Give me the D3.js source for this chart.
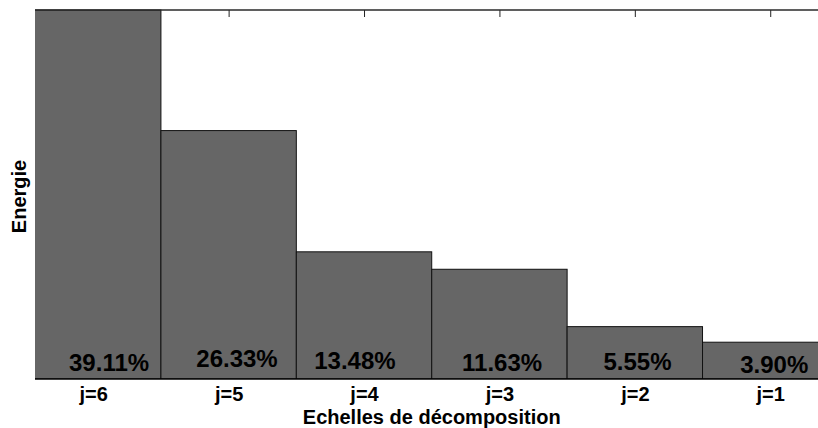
<!DOCTYPE html>
<html>
<head>
<meta charset="utf-8">
<script src="https://cdn.jsdelivr.net/npm/d3@7"></script>
<style>
  html, body { margin: 0; padding: 0; background: #fff; }
  svg { display: block; }
  text { font-family: "Liberation Sans", Arial, sans-serif; font-weight: bold; fill: #000; }
</style>
</head>
<body>
<svg id="chart" width="818" height="428"></svg>
<script>
// ---- data ----
const categories = ["j=6", "j=5", "j=4", "j=3", "j=2", "j=1"];
const energies = [39.11, 26.33, 13.48, 11.63, 5.55, 3.90];
const valueLabels = ["39.11%", "26.33%", "13.48%", "11.63%", "5.55%", "3.90%"];
// text anchor points of the value labels, in data units (as placed in the original)
const labelX = [1.117, 2.062, 2.933, 4.02, 5.02, 6.03];
const labelY = [0.85, 1.27, 1.03, 0.88, 0.95, 0.60];
const xLabel = "Echelles de décomposition";
const yLabel = "Energie";

(function () {
  // ---- layout ----
  const svg = d3.select("#chart");
  const mLeft = 35, mTop = 10, mBottom = 379;
  const xMin = 0.57, xMax = 6.43;
  const pxPerUnit = 135.4;
  const mRight = mLeft + (xMax - xMin) * pxPerUnit;

  const x = d3.scaleLinear().domain([xMin, xMax]).range([mLeft, mRight]);
  const y = d3.scaleLinear().domain([0, d3.max(energies)]).range([mBottom, mTop]);
  const barW = x(1.5) - x(0.5);
  const pos = categories.map((c, i) => i + 1);

  svg.append("defs").append("clipPath").attr("id", "plotClip")
    .append("rect").attr("x", mLeft).attr("y", mTop - 1)
    .attr("width", mRight - mLeft).attr("height", mBottom - mTop + 1);

  // top axis ticks (drawn below bars)
  const topAxis = d3.axisTop(x).tickValues(pos).tickSize(-7).tickFormat("");
  const gTop = svg.append("g").attr("transform", `translate(0,${mTop})`).call(topAxis);
  gTop.select(".domain").remove();
  gTop.selectAll(".tick line").attr("stroke", "#222").attr("stroke-width", 1);

  // bars
  svg.append("g").attr("clip-path", "url(#plotClip)")
    .selectAll("rect").data(energies).join("rect")
    .attr("x", (d, i) => x(pos[i]) - barW / 2)
    .attr("y", d => y(d))
    .attr("width", barW)
    .attr("height", d => mBottom - y(d))
    .attr("fill", "#666666")
    .attr("stroke", "#111")
    .attr("stroke-width", 1);

  // axis frame lines
  svg.append("line").attr("x1", mLeft).attr("x2", mRight).attr("y1", mTop).attr("y2", mTop)
    .attr("stroke", "#2a2a2a").attr("stroke-width", 1.6);
  svg.append("line").attr("x1", mLeft).attr("x2", mRight).attr("y1", mBottom).attr("y2", mBottom)
    .attr("stroke", "#000").attr("stroke-width", 1.4);

  // bottom axis labels
  const bottomAxis = d3.axisBottom(x).tickValues(pos).tickSize(0).tickPadding(0)
    .tickFormat((d, i) => categories[i]);
  const gBot = svg.append("g").attr("transform", `translate(0,${mBottom})`).call(bottomAxis);
  gBot.select(".domain").remove();
  gBot.selectAll(".tick text")
    .attr("font-size", 20).attr("font-weight", "bold")
    .attr("font-family", "'Liberation Sans', Arial, sans-serif")
    .attr("fill", "#000").attr("dy", null).attr("y", 22);

  // value labels
  svg.append("g").selectAll("text").data(valueLabels).join("text")
    .attr("x", (d, i) => x(labelX[i]))
    .attr("y", (d, i) => y(labelY[i]))
    .attr("text-anchor", "middle")
    .attr("font-size", 24)
    .attr("fill", "#111")
    .text(d => d);

  // axis titles
  svg.append("text")
    .attr("x", (mLeft + mRight) / 2).attr("y", 423.5)
    .attr("text-anchor", "middle").attr("font-size", 20)
    .text(xLabel);
  svg.append("text")
    .attr("transform", `translate(26,${(mTop + mBottom) / 2 + 2}) rotate(-90)`)
    .attr("text-anchor", "middle").attr("font-size", 20)
    .text(yLabel);
})();
</script>
</body>
</html>
